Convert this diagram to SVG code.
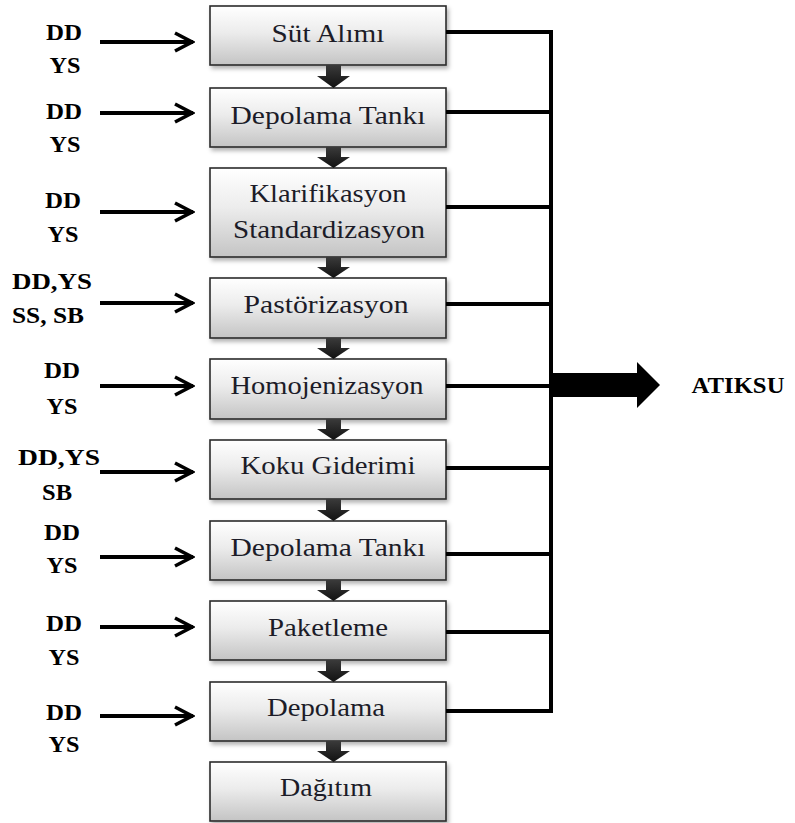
<svg xmlns="http://www.w3.org/2000/svg" width="795" height="823" viewBox="0 0 795 823">
<defs>
<linearGradient id="boxg" x1="0" y1="0" x2="0" y2="1">
<stop offset="0" stop-color="#ffffff"/>
<stop offset="0.45" stop-color="#ececec"/>
<stop offset="1" stop-color="#c4c4c4"/>
</linearGradient>
<linearGradient id="darr" x1="0" y1="0" x2="0" y2="1">
<stop offset="0" stop-color="#3a3a3a"/>
<stop offset="1" stop-color="#111111"/>
</linearGradient>
<filter id="sh" x="-10%" y="-10%" width="125%" height="140%">
<feDropShadow dx="2" dy="3" stdDeviation="2" flood-color="#000" flood-opacity="0.3"/>
</filter>
<marker id="chev" viewBox="0 0 22 22" refX="20" refY="11" markerWidth="22" markerHeight="22" markerUnits="userSpaceOnUse" orient="auto">
<path d="M2,2 L19,11 L2,20" fill="none" stroke="#000" stroke-width="3.5" stroke-linejoin="miter"/>
</marker>
</defs>
<style>
.box{fill:url(#boxg);stroke:#2b2b2b;stroke-width:1.6;filter:url(#sh)}
.bt{font-family:"Liberation Serif","Times New Roman",serif;font-size:26px;fill:#1c1c28;text-anchor:middle}
.lb{font-family:"Liberation Serif","Times New Roman",serif;font-size:23px;font-weight:bold;fill:#000;text-anchor:middle}
.in{stroke:#000;stroke-width:4;fill:none;marker-end:url(#chev)}
.out{stroke:#000;stroke-width:4;fill:none}
.dn{fill:url(#darr)}
</style>

<g id="n1"><rect class="box" x="210" y="6" width="236" height="59"/><text class="bt" x="328" y="42" textLength="113" lengthAdjust="spacingAndGlyphs">Süt Alımı</text></g>
<g id="n2"><rect class="box" x="210" y="88" width="236" height="59"/><text class="bt" x="328" y="124" textLength="195" lengthAdjust="spacingAndGlyphs">Depolama Tankı</text></g>
<g id="n3"><rect class="box" x="210" y="168" width="236" height="89"/><text class="bt" x="328" y="202" textLength="157" lengthAdjust="spacingAndGlyphs">Klarifikasyon</text><text class="bt" x="329" y="238" textLength="192" lengthAdjust="spacingAndGlyphs">Standardizasyon</text></g>
<g id="n4"><rect class="box" x="210" y="278" width="236" height="60"/><text class="bt" x="326" y="313" textLength="165" lengthAdjust="spacingAndGlyphs">Pastörizasyon</text></g>
<g id="n5"><rect class="box" x="210" y="359" width="236" height="60"/><text class="bt" x="327" y="394" textLength="193" lengthAdjust="spacingAndGlyphs">Homojenizasyon</text></g>
<g id="n6"><rect class="box" x="210" y="440" width="236" height="59"/><text class="bt" x="328" y="474" textLength="175" lengthAdjust="spacingAndGlyphs">Koku Giderimi</text></g>
<g id="n7"><rect class="box" x="210" y="521" width="236" height="59"/><text class="bt" x="328" y="556" textLength="195" lengthAdjust="spacingAndGlyphs">Depolama Tankı</text></g>
<g id="n8"><rect class="box" x="210" y="601" width="236" height="59"/><text class="bt" x="328" y="636" textLength="120" lengthAdjust="spacingAndGlyphs">Paketleme</text></g>
<g id="n9"><rect class="box" x="210" y="682" width="236" height="59"/><text class="bt" x="326" y="716" textLength="118" lengthAdjust="spacingAndGlyphs">Depolama</text></g>
<g id="n10"><rect class="box" x="210" y="762" width="236" height="59"/><text class="bt" x="326" y="796" textLength="92" lengthAdjust="spacingAndGlyphs">Dağıtım</text></g>

<g id="atiksu"><text class="lb" x="738" y="393" font-size="24" textLength="93" lengthAdjust="spacingAndGlyphs">ATIKSU</text></g>

<g id="labels">
<text class="lb" x="64" y="40" textLength="36" lengthAdjust="spacingAndGlyphs">DD</text><text class="lb" x="65" y="73" textLength="31" lengthAdjust="spacingAndGlyphs">YS</text>
<text class="lb" x="64" y="119" textLength="36" lengthAdjust="spacingAndGlyphs">DD</text><text class="lb" x="65" y="152" textLength="31" lengthAdjust="spacingAndGlyphs">YS</text>
<text class="lb" x="63" y="208" textLength="36" lengthAdjust="spacingAndGlyphs">DD</text><text class="lb" x="63" y="242" textLength="31" lengthAdjust="spacingAndGlyphs">YS</text>
<text class="lb" x="52" y="289" textLength="80" lengthAdjust="spacingAndGlyphs">DD,YS</text><text class="lb" x="48" y="323" textLength="72" lengthAdjust="spacingAndGlyphs">SS, SB</text>
<text class="lb" x="62" y="378" textLength="36" lengthAdjust="spacingAndGlyphs">DD</text><text class="lb" x="62" y="414" textLength="31" lengthAdjust="spacingAndGlyphs">YS</text>
<text class="lb" x="59" y="465" textLength="82" lengthAdjust="spacingAndGlyphs">DD,YS</text><text class="lb" x="57" y="500" textLength="30" lengthAdjust="spacingAndGlyphs">SB</text>
<text class="lb" x="62" y="540" textLength="36" lengthAdjust="spacingAndGlyphs">DD</text><text class="lb" x="62" y="573" textLength="31" lengthAdjust="spacingAndGlyphs">YS</text>
<text class="lb" x="64" y="631" textLength="36" lengthAdjust="spacingAndGlyphs">DD</text><text class="lb" x="64" y="665" textLength="31" lengthAdjust="spacingAndGlyphs">YS</text>
<text class="lb" x="64" y="720" textLength="36" lengthAdjust="spacingAndGlyphs">DD</text><text class="lb" x="64" y="752" textLength="31" lengthAdjust="spacingAndGlyphs">YS</text>
</g>

<g id="connectors">
<path class="in" d="M100,42 H193"/>
<path class="in" d="M100,113 H193"/>
<path class="in" d="M100,212 H193"/>
<path class="in" d="M100,303 H193"/>
<path class="in" d="M100,386 H193"/>
<path class="in" d="M100,472 H193"/>
<path class="in" d="M100,557 H193"/>
<path class="in" d="M100,627 H193"/>
<path class="in" d="M100,716 H193"/>

<path class="dn" d="M326,65 H341 V76 H350 L333.5,88 L317,76 H326 Z"/>
<path class="dn" d="M326,147 H341 V157 H350 L333.5,168 L317,157 H326 Z"/>
<path class="dn" d="M326,257 H341 V267 H350 L333.5,278 L317,267 H326 Z"/>
<path class="dn" d="M326,338 H341 V348 H350 L333.5,359 L317,348 H326 Z"/>
<path class="dn" d="M326,419 H341 V429 H350 L333.5,440 L317,429 H326 Z"/>
<path class="dn" d="M326,499 H341 V510 H350 L333.5,521 L317,510 H326 Z"/>
<path class="dn" d="M326,580 H341 V590 H350 L333.5,601 L317,590 H326 Z"/>
<path class="dn" d="M326,660 H341 V671 H350 L333.5,682 L317,671 H326 Z"/>
<path class="dn" d="M326,741 H341 V751 H350 L333.5,762 L317,751 H326 Z"/>

<path class="out" d="M446,32 H551 V711 H446"/>
<path class="out" d="M446,112 H551"/>
<path class="out" d="M446,207 H551"/>
<path class="out" d="M446,304 H551"/>
<path class="out" d="M446,386 H551"/>
<path class="out" d="M446,468 H551"/>
<path class="out" d="M446,554 H551"/>
<path class="out" d="M446,632 H551"/>
<path d="M553,373 H637 V362 L660,385 L637,408 V397 H553 Z" fill="#000"/>
</g>
</svg>
